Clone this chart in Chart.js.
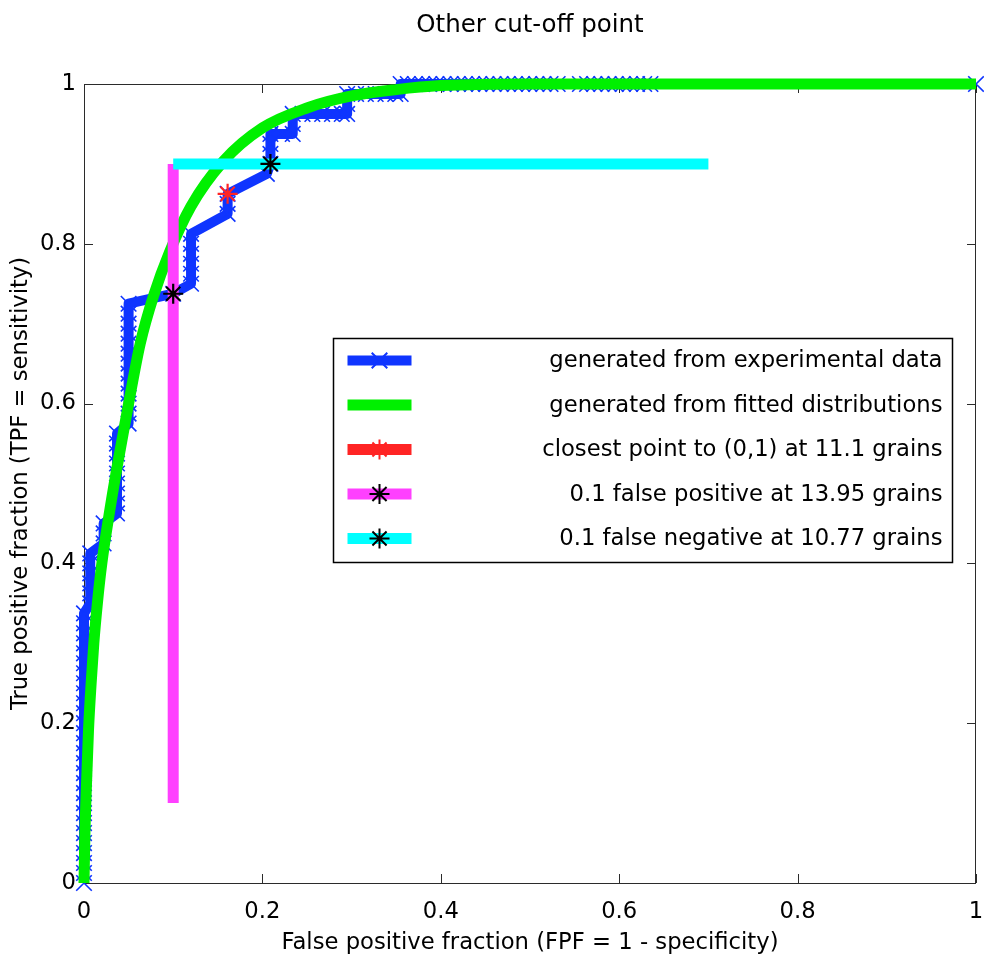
<!DOCTYPE html>
<html><head><meta charset="utf-8">
<script src="https://cdn.jsdelivr.net/npm/chart.js@4.4.1/dist/chart.umd.min.js"></script>
<style>html,body{margin:0;padding:0;background:#fff;}canvas{display:block;}</style>
</head><body>
<canvas id="c" width="984" height="955"></canvas>
<script>
// ---------- data ----------
const chartTitle = 'Other cut-off point';
const xAxisLabel = 'False positive fraction (FPF = 1 - specificity)';
const yAxisLabel = 'True positive fraction (TPF = sensitivity)';
const tickValues = [0, 0.2, 0.4, 0.6, 0.8, 1];
const seriesLabels = [
  'generated from experimental data',
  'generated from fitted distributions',
  'closest point to (0,1) at 11.1 grains',
  '0.1 false positive at 13.95 grains',
  '0.1 false negative at 10.77 grains'
];
// empirical ROC (step curve)
const expFPR = [
  0,0,0,0,0,0,0,0,0,0,0,0,0,0,0,0,0,0,0,0,0,0,0,0,0,0,0,0,
  0.007,0.007,0.007,0.007,0.007,0.007,
  0.022,0.022,0.022,
  0.037,0.037,0.037,0.037,0.037,0.037,0.037,0.037,0.037,
  0.05,0.05,0.05,0.05,0.05,0.05,0.05,0.05,0.05,0.05,0.05,0.05,0.05,
  0.1,
  0.12,0.12,0.12,0.12,0.12,0.12,
  0.161,0.161,0.161,
  0.205,0.209,0.209,0.209,0.209,
  0.222,0.234,0.234,0.234,
  0.245,0.256,0.267,0.278,0.289,0.295,0.295,0.295,
  0.305,0.316,0.327,0.338,0.349,0.355,0.355,
  0.363,0.371,0.379,0.387,0.395,0.403,0.411,0.419,0.427,0.435,0.443,0.451,0.459,0.467,0.475,0.483,0.491,0.499,0.507,0.515,0.523,0.531,
  0.556,0.564,0.572,0.58,0.588,0.596,0.604,0.612,0.62,0.628,0.635,
  1.0
];
const expTPR = [
  0,0.0125,0.025,0.0375,0.05,0.0625,0.075,0.0875,0.1,0.1125,0.125,0.1375,0.15,0.1625,0.175,0.1875,0.2,0.2125,0.225,0.2375,0.25,0.2625,0.275,0.2875,0.3,0.3125,0.325,0.3375,
  0.35,0.3625,0.375,0.3875,0.4,0.4125,
  0.425,0.4375,0.45,
  0.4625,0.475,0.4875,0.5,0.5125,0.525,0.5375,0.55,0.5625,
  0.575,0.5875,0.6,0.6125,0.625,0.6375,0.65,0.6625,0.675,0.6875,0.7,0.7125,0.725,
  0.7375,
  0.75,0.7625,0.775,0.7875,0.8,0.8125,
  0.8375,0.85,0.8625,
  0.8875,0.9,0.9125,0.925,0.9375,
  0.9375,0.9375,0.95,0.9625,
  0.9625,0.9625,0.9625,0.9625,0.9625,0.9625,0.975,0.9875,
  0.9875,0.9875,0.9875,0.9875,0.9875,0.9875,1,
  1,1,1,1,1,1,1,1,1,1,1,1,1,1,1,1,1,1,1,1,1,1,
  1,1,1,1,1,1,1,1,1,1,1,
  1
];
// fitted (binormal) ROC
const fitFPR = [0,0.001,0.003,0.005,0.008,0.011,0.015,0.02,0.028,0.037,0.05,0.063,0.078,0.096,0.12,0.156,0.2,0.25,0.3,0.35,0.4,0.5,0.6,0.8,1];
const fitTPR = [0,0.06,0.13,0.19,0.25,0.3,0.35,0.4,0.46,0.52,0.6,0.675,0.735,0.79,0.847,0.903,0.945,0.97,0.985,0.993,0.998,1,1,1,1];
// closest point to (0,1)
const closestFPR = [0.161];
const closestTPR = [0.8625];
// 0.1 false positive line and its point
const fpLineFPR = [0.1, 0.1, 0.1];
const fpLineTPR = [0.1, 0.7375, 0.9];
// 0.1 false negative line and its point
const fnLineFPR = [0.1, 0.209, 0.7];
const fnLineTPR = [0.9, 0.9, 0.9];

// ---------- helpers ----------
const FONT = "'DejaVu Sans', sans-serif";
const pts = (xs, ys) => xs.map((v, i) => ({x: v, y: ys[i]}));

const BLUE = '#0f35ff', GREEN = '#00f000', RED = '#ff2424', PINK = '#ff40ff', CYAN = '#00ffff';

function drawMarker(ctx, style, x, y, r, color, lw) {
  ctx.save();
  ctx.strokeStyle = color; ctx.lineWidth = lw; ctx.beginPath();
  const d = r * Math.SQRT1_2;
  ctx.moveTo(x - d, y - d); ctx.lineTo(x + d, y + d);
  ctx.moveTo(x - d, y + d); ctx.lineTo(x + d, y - d);
  if (style === 'star') {
    ctx.moveTo(x, y - r); ctx.lineTo(x, y + r);
    ctx.moveTo(x - r, y); ctx.lineTo(x + r, y);
  }
  ctx.stroke(); ctx.restore();
}

const framePlugin = {
  id: 'frame',
  beforeDatasetsDraw(chart) {
    const {ctx, chartArea: a, scales} = chart;
    const sx = scales.x, sy = scales.y;
    ctx.save();
    ctx.strokeStyle = '#2b2b2b'; ctx.lineWidth = 1;
    ctx.strokeRect(a.left + 0.5, a.top + 0.5, a.right - a.left - 1, a.bottom - a.top);
    ctx.beginPath();
    const L = 9;
    sx.ticks.forEach(t => {
      const p = Math.round(sx.getPixelForValue(t.value)) + 0.5;
      ctx.moveTo(p, a.bottom); ctx.lineTo(p, a.bottom - L);
      ctx.moveTo(p, a.top); ctx.lineTo(p, a.top + L);
    });
    sy.ticks.forEach(t => {
      const p = Math.round(sy.getPixelForValue(t.value)) + 0.5;
      ctx.moveTo(a.left, p); ctx.lineTo(a.left + L, p);
      ctx.moveTo(a.right, p); ctx.lineTo(a.right - L, p);
    });
    ctx.stroke();
    ctx.restore();
  }
};

const legendPlugin = {
  id: 'boxLegend',
  afterDraw(chart) {
    const {ctx, chartArea: a} = chart;
    const w = a.right - a.left, h = a.bottom - a.top;
    const bx = Math.round(a.left + 0.2795 * w) + 0.5;
    const bxr = Math.round(a.left + 0.9735 * w) + 0.5;
    const by = Math.round(a.top + 0.318 * h) + 0.5;
    const byb = Math.round(a.top + 0.598 * h) + 0.5;
    ctx.save();
    ctx.fillStyle = '#fff';
    ctx.fillRect(bx, by, bxr - bx, byb - by);
    ctx.strokeStyle = '#000'; ctx.lineWidth = 1.5;
    ctx.strokeRect(bx, by, bxr - bx, byb - by);
    const rowH = 44.5;
    ctx.font = '22.7px ' + FONT;
    ctx.fillStyle = '#000';
    ctx.textAlign = 'right'; ctx.textBaseline = 'middle';
    chart.data.datasets.forEach((ds, i) => {
      const cy = by + 22 + i * rowH;
      ctx.strokeStyle = ds.borderColor; ctx.lineWidth = ds.borderWidth; ctx.lineCap = 'butt';
      ctx.beginPath(); ctx.moveTo(bx + 14, cy); ctx.lineTo(bx + 78, cy); ctx.stroke();
      if (ds.legendMarker) drawMarker(ctx, ds.pointStyle, bx + 46, cy, ds.legendMarker, ds.pointBorderColor, 2);
      ctx.fillText(ds.label, bxr - 10, cy + 1);
    });
    ctx.restore();
  }
};

const tickFont = {family: FONT, size: 22.7};

new Chart(document.getElementById('c'), {
  type: 'scatter',
  data: {
    datasets: [
      {label: seriesLabels[0], data: pts(expFPR, expTPR), showLine: true, borderColor: BLUE, borderWidth: 10,
       pointStyle: 'crossRot', pointRadius: 11, pointBorderWidth: 1.6, pointBorderColor: BLUE, pointBackgroundColor: BLUE,
       legendMarker: 11, clip: false, order: 6},
      {label: seriesLabels[1], data: pts(fitFPR, fitTPR), showLine: true, borderColor: GREEN, borderWidth: 11,
       tension: 0.35, cubicInterpolationMode: 'monotone', pointRadius: 0, clip: false, order: 5, borderCapStyle: 'butt'},
      {label: seriesLabels[2], data: pts(closestFPR, closestTPR), showLine: false, borderColor: RED, borderWidth: 11,
       pointStyle: 'star', pointRadius: 10, pointBorderWidth: 2.2, pointBorderColor: RED, pointBackgroundColor: RED,
       legendMarker: 10, clip: false, order: 4},
      {label: seriesLabels[3], data: pts(fpLineFPR, fpLineTPR), showLine: true, borderColor: PINK, borderWidth: 11,
       pointStyle: 'star', pointRadius: c => c.dataIndex === 1 ? 10 : 0, pointBorderWidth: 2.2,
       pointBorderColor: '#000', pointBackgroundColor: '#000', legendMarker: 10, clip: false, order: 3},
      {label: seriesLabels[4], data: pts(fnLineFPR, fnLineTPR), showLine: true, borderColor: CYAN, borderWidth: 11,
       pointStyle: 'star', pointRadius: c => c.dataIndex === 1 ? 10 : 0, pointBorderWidth: 2.2,
       pointBorderColor: '#000', pointBackgroundColor: '#000', legendMarker: 10, clip: false, order: 2}
    ]
  },
  options: {
    responsive: false, animation: false, devicePixelRatio: 1,
    layout: {autoPadding: false, padding: {left: 0, right: 8, top: 0, bottom: 0}},
    plugins: {legend: {display: false}, title: {display: false}, tooltip: {enabled: false}},
    elements: {line: {borderJoinStyle: 'round'}},
    scales: {
      x: {
        type: 'linear', position: 'bottom', min: 0, max: 1,
        afterBuildTicks: s => { s.ticks = tickValues.map(v => ({value: v})); },
        ticks: {font: tickFont, color: '#000', padding: 15, maxRotation: 0,
                callback: v => String(Number(v.toFixed(1)))},
        grid: {display: false, drawTicks: false}, border: {display: false},
        title: {display: true, text: xAxisLabel, color: '#000', font: tickFont, padding: {top: 0, bottom: -2}},
        afterFit: s => { s.height = 72; s.paddingLeft = 0; s.paddingRight = 0; }
      },
      x2: {
        type: 'linear', position: 'top', min: 0, max: 1,
        ticks: {display: false}, grid: {display: false, drawTicks: false}, border: {display: false},
        title: {display: true, text: chartTitle, color: '#000', font: {family: FONT, size: 24.5}, padding: {top: 11, bottom: 0}},
        afterFit: s => { s.height = 84; s.paddingLeft = 0; s.paddingRight = 0; }
      },
      y: {
        type: 'linear', position: 'left', min: 0, max: 1,
        afterBuildTicks: s => { s.ticks = tickValues.map(v => ({value: v})); },
        ticks: {font: tickFont, color: '#000', padding: 8,
                callback: v => String(Number(v.toFixed(1)))},
        grid: {display: false, drawTicks: false}, border: {display: false},
        title: {display: true, text: yAxisLabel, color: '#000', font: tickFont, padding: {top: 7, bottom: 0}},
        afterFit: s => { s.width = 84; s.paddingTop = 0; s.paddingBottom = 0; }
      }
    }
  },
  plugins: [framePlugin, legendPlugin]
});
</script>
</body></html>
